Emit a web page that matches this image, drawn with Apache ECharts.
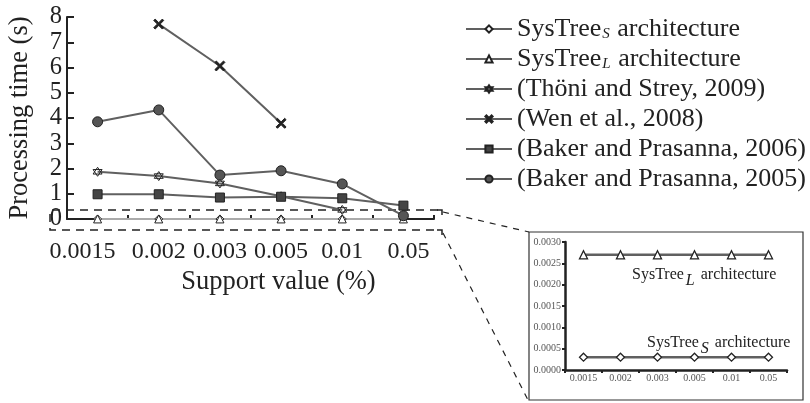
<!DOCTYPE html>
<html>
<head>
<meta charset="utf-8">
<script src="https://cdn.jsdelivr.net/npm/echarts@6/dist/echarts.min.js"></script>
<style>html,body{margin:0;padding:0;background:#fff}#c{width:810px;height:403px}</style>
</head>
<body>
<div id="c"></div>
<script>
// ---- data ----
const categories = ['0.0015', '0.002', '0.003', '0.005', '0.01', '0.05'];
const sysTreeS = [0.0003, 0.0003, 0.0003, 0.0003, 0.0003, 0.0003];
const sysTreeL = [0.0027, 0.0027, 0.0027, 0.0027, 0.0027, 0.0027];
const thoni = [1.87, 1.70, 1.41, 0.90, 0.36, null];
const wen = [null, 7.72, 6.06, 3.79, null, null];
const baker2006 = [0.98, 0.98, 0.85, 0.88, 0.82, 0.53];
const baker2005 = [3.85, 4.32, 1.74, 1.91, 1.39, 0.13];
const mainYTicks = [0, 1, 2, 3, 4, 5, 6, 7, 8];
const insetYTicks = [0, 0.0005, 0.001, 0.0015, 0.002, 0.0025, 0.003];

const names = {
  s: 'SysTree_S architecture',
  l: 'SysTree_L architecture',
  t: '(Thöni and Strey, 2009)',
  w: '(Wen et al., 2008)',
  b6: '(Baker and Prasanna, 2006)',
  b5: '(Baker and Prasanna, 2005)'
};

const FONT = 'Liberation Serif';
const LINE = '#606060';
const starPath = 'path://M0,-10L8.66,5L-8.66,5Z M0,10L8.66,-5L-8.66,-5Z';
const xPath = 'path://M-5,-3.6L-3.6,-5L0,-1.4L3.6,-5L5,-3.6L1.4,0L5,3.6L3.6,5L0,1.4L-3.6,5L-5,3.6L-1.4,0Z';

const chart = echarts.init(document.getElementById('c'), null, {renderer: 'canvas'});

function mainSeries(name, data, symbol, size, fill, lineColor) {
  return {
    name: name, type: 'line', xAxisIndex: 0, yAxisIndex: 0, data: data,
    symbol: symbol, symbolSize: size, showAllSymbol: true, connectNulls: false,
    lineStyle: {color: lineColor || LINE, width: 2},
    itemStyle: {color: fill, borderColor: '#222', borderWidth: 1},
    emphasis: {disabled: true}, animation: false, z: 3
  };
}

// main x-axis category items: first and last labels nudged as in the original
const mainXData = categories.map(function (c, i) {
  if (i === 0) return {value: c, textStyle: {padding: [0, 30, 0, 0]}};
  if (i === categories.length - 1) return {value: c, textStyle: {padding: [0, 0, 0, 10]}};
  return c;
});

const annRich = {
  a: {fontFamily: FONT, fontSize: 16, lineHeight: 18, fill: '#222'},
  s: {fontFamily: FONT, fontSize: 16, fontStyle: 'italic', lineHeight: 16, padding: [12, 2, 0, 2], fill: '#222'}
};

const option = {
  animation: false,
  backgroundColor: '#fff',
  grid: [
    {left: 67, top: 17, right: 376, bottom: 184, containLabel: false},
    {left: 565, top: 242, right: 23, bottom: 33, containLabel: false}
  ],
  xAxis: [
    {
      type: 'category', gridIndex: 0, data: mainXData, boundaryGap: true,
      name: 'Support value (%)', nameLocation: 'middle', nameGap: 50,
      nameTextStyle: {fontFamily: FONT, fontSize: 26.5, color: '#222', padding: [0, 0, 0, 56]},
      axisLine: {lineStyle: {color: '#222', width: 2}},
      axisTick: {show: true, inside: true, length: 4, lineStyle: {color: '#222', width: 2}},
      axisLabel: {fontFamily: FONT, fontSize: 24, color: '#222', margin: 21, interval: 0},
      splitLine: {show: false}
    },
    {
      type: 'category', gridIndex: 1, data: categories, boundaryGap: true,
      axisLine: {lineStyle: {color: '#222', width: 2.5}},
      axisTick: {show: true, inside: false, length: 3, lineStyle: {color: '#222', width: 2}},
      axisLabel: {fontFamily: FONT, fontSize: 10, color: '#555', margin: 3, interval: 0},
      splitLine: {show: false}
    }
  ],
  yAxis: [
    {
      type: 'value', gridIndex: 0, min: mainYTicks[0], max: mainYTicks[mainYTicks.length - 1], interval: 1,
      name: 'Processing time (s)', nameLocation: 'middle', nameGap: 33, nameRotate: 90,
      nameTextStyle: {fontFamily: FONT, fontSize: 26.5, color: '#222'},
      axisLine: {show: true, lineStyle: {color: '#222', width: 2}},
      axisTick: {show: true, inside: true, length: 7, lineStyle: {color: '#222', width: 2}},
      axisLabel: {fontFamily: FONT, fontSize: 24.5, color: '#222', margin: 5},
      splitLine: {show: false}
    },
    {
      type: 'value', gridIndex: 1, min: insetYTicks[0], max: insetYTicks[insetYTicks.length - 1], interval: 0.0005,
      axisLine: {show: true, lineStyle: {color: '#222', width: 2.5}},
      axisTick: {show: true, inside: false, length: 3, lineStyle: {color: '#222', width: 2}},
      axisLabel: {fontFamily: FONT, fontSize: 10, color: '#555', margin: 4,
        formatter: v => v.toFixed(4)},
      splitLine: {show: false}
    }
  ],
  legend: {
    orient: 'vertical', left: 460, top: 11, itemWidth: 46, itemHeight: 9, itemGap: 4,
    data: [names.s, names.l, names.t, names.w, names.b6, names.b5],
    selectedMode: false,
    formatter: function (n) {
      if (n === names.s) return '{a|SysTree}{s|S}{a| architecture}';
      if (n === names.l) return '{a|SysTree}{s|L}{a| architecture}';
      return '{a|' + n + '}';
    },
    textStyle: {
      fontFamily: FONT, fontSize: 26, color: '#222', lineHeight: 26,
      rich: {
        a: {fontFamily: FONT, fontSize: 26, color: '#222', lineHeight: 26},
        s: {fontFamily: FONT, fontSize: 15, fontStyle: 'italic', color: '#222', lineHeight: 15, padding: [11, 1, 0, 1]}
      }
    }
  },
  series: [
    // inset series first so legend icons take their style
    {
      name: names.s, type: 'line', xAxisIndex: 1, yAxisIndex: 1, data: sysTreeS,
      symbol: 'diamond', symbolSize: 8, showAllSymbol: true,
      lineStyle: {color: LINE, width: 2.5},
      itemStyle: {color: '#fff', borderColor: '#222', borderWidth: 1.3}, emphasis: {disabled: true}
    },
    {
      name: names.l, type: 'line', xAxisIndex: 1, yAxisIndex: 1, data: sysTreeL,
      symbol: 'triangle', symbolSize: 8, showAllSymbol: true,
      lineStyle: {color: LINE, width: 2.5},
      itemStyle: {color: '#fff', borderColor: '#222', borderWidth: 1.3}, emphasis: {disabled: true}
    },
    mainSeries(names.s, sysTreeS, 'diamond', 8, '#fff', '#aaa'),
    mainSeries(names.l, sysTreeL, 'triangle', 8, '#fff', '#aaa'),
    mainSeries(names.t, thoni, starPath, 9, '#fff'),
    mainSeries(names.w, wen, xPath, 10, '#222'),
    mainSeries(names.b6, baker2006, 'rect', 9, '#444'),
    mainSeries(names.b5, baker2005, 'circle', 10, '#555')
  ],
  graphic: [
    // zoom indicator (dashed box around main chart zero region)
    {type: 'polyline', silent: true, shape: {points: [[438, 210], [50, 210], [50, 230], [438, 230]]},
      style: {stroke: '#222', lineWidth: 1.5, lineDash: [8, 6], fill: null}},
    {type: 'polyline', silent: true, shape: {points: [[437, 210], [442, 210], [442, 215]]},
      style: {stroke: '#222', lineWidth: 1.5, fill: null}},
    {type: 'polyline', silent: true, shape: {points: [[437, 230], [442, 230], [442, 235]]},
      style: {stroke: '#222', lineWidth: 1.5, fill: null}},
    {type: 'line', silent: true, shape: {x1: 443, y1: 212, x2: 529, y2: 232},
      style: {stroke: '#222', lineWidth: 1.2, lineDash: [6, 6]}},
    {type: 'line', silent: true, shape: {x1: 443, y1: 233, x2: 528, y2: 400},
      style: {stroke: '#222', lineWidth: 1.2, lineDash: [6, 6]}},
    // inset frame
    {type: 'rect', silent: true, z: -1, shape: {x: 529, y: 232, width: 274, height: 168},
      style: {stroke: '#333', lineWidth: 1.2, fill: '#fff'}},
    // inset annotations
    {type: 'text', silent: true, left: 632, top: 261, z: 10,
      style: {text: '{a|SysTree}{s|L}{a| architecture}', fill: '#222', rich: annRich}},
    {type: 'text', silent: true, left: 647, top: 329, z: 10,
      style: {text: '{a|SysTree}{s|S}{a| architecture}', fill: '#222', rich: annRich}}
  ]
};
chart.setOption(option);
</script>
</body>
</html>
